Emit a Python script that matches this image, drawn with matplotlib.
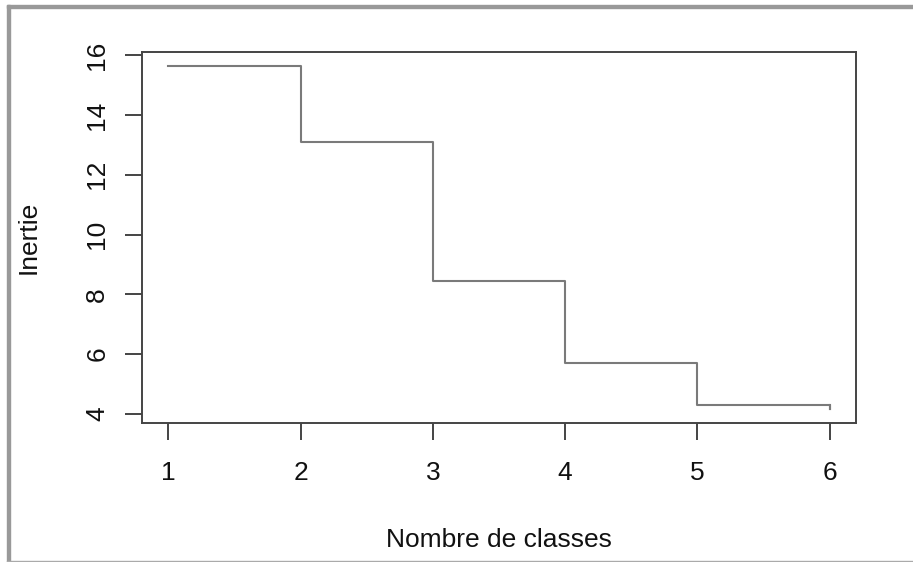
import matplotlib.pyplot as plt
from matplotlib.patches import Rectangle

# nombre de classes et inertie intra-classe
classes = [1, 2, 3, 4, 5, 6]
inertie = [15.65, 13.1, 8.45, 5.7, 4.3, 4.15]
xticks = [1, 2, 3, 4, 5, 6]
yticks = [4, 6, 8, 10, 12, 14, 16]

plt.rcParams['font.family'] = ['Liberation Sans', 'DejaVu Sans']

fig = plt.figure(figsize=(9.13, 5.62), dpi=100)
ax = fig.add_axes([142 / 913, 1 - 423 / 562, 714 / 913, 371 / 562])

# type="s" comme en R : horizontal puis vertical
ax.step(classes, inertie, where='post', color='#7a7a7a', linewidth=1.5)
# dernier segment vertical a x=6
ax.plot([classes[-1], classes[-1]], [inertie[-2], inertie[-1]],
        color='#7a7a7a', linewidth=1.5)

ax.set_xlim(0.8, 6.2)
ax.set_ylim(3.69, 16.11)
ax.set_xticks(xticks)
ax.set_yticks(yticks)
ax.set_yticklabels([str(v) for v in yticks], rotation=90, va='center')

for sp in ax.spines.values():
    sp.set_color('#444444')
    sp.set_linewidth(1.4)

ax.tick_params(axis='both', direction='out', length=12.5, width=1.4,
               color='#444444', labelsize=19, labelcolor='#111111')
ax.tick_params(axis='x', pad=15)
ax.tick_params(axis='y', pad=11)

ax.set_xlabel('Nombre de classes', fontsize=19, color='#111111', labelpad=31)
ax.set_ylabel('Inertie', fontsize=19, color='#111111', labelpad=32)

# cadre gris de la capture
fig.patches.append(Rectangle((7 / 913, 0), 3 / 913, 1 - 5 / 562,
                             transform=fig.transFigure, color='#999999'))
fig.patches.append(Rectangle((7 / 913, 1 - 8 / 562), 1, 3 / 562,
                             transform=fig.transFigure, color='#999999'))
fig.patches.append(Rectangle((7 / 913, 0), 1, 1.5 / 562,
                             transform=fig.transFigure, color='#aaaaaa'))

fig.savefig('out.png', dpi=100)
